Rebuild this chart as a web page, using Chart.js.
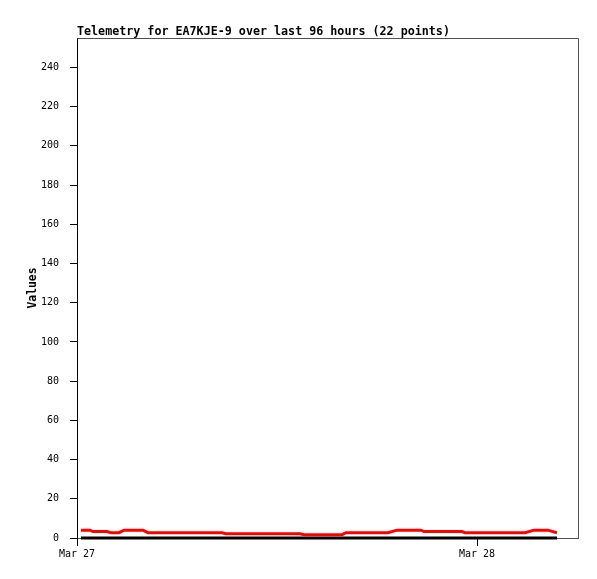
<!DOCTYPE html>
<html>
<head>
<meta charset="utf-8">
<script src="https://cdn.jsdelivr.net/npm/chart.js"></script>
<style>
  html, body { margin: 0; padding: 0; background: #fff; }
</style>
</head>
<body>
<canvas id="telemetryChart" width="597" height="579"></canvas>
<script>
// données (heures depuis le 27 mars 00:00)
const chartTitle = 'Telemetry for EA7KJE-9 over last 96 hours (22 points)';
const hours = [0.24, 0.78, 0.96, 1.8, 2.04, 2.52, 2.82, 3.96, 4.26, 8.7, 8.94, 13.38, 13.62,
               15.9, 16.14, 18.66, 19.2, 20.64, 20.82, 23.1, 23.28, 26.88, 27.42, 28.26, 28.5, 28.8];
const redValues = [4.0, 4.0, 3.3, 3.3, 2.7, 2.7, 4.0, 4.0, 2.7, 2.7, 2.2, 2.2, 1.7,
                   1.7, 2.7, 2.7, 4.0, 4.0, 3.3, 3.3, 2.7, 2.7, 4.0, 4.0, 3.4, 2.7];
const blackValues = hours.map(() => 0);
const xTickHours = [0, 24];
const xTickLabels = ['Mar 27', 'Mar 28'];
const yTicks = [0, 20, 40, 60, 80, 100, 120, 140, 160, 180, 200, 220, 240];

const monoFont = '"DejaVu Sans Mono", "Liberation Mono", monospace';

// cadre gris + titre
const framePlugin = {
    id: 'frame',
    afterDraw(chart) {
        const ctx = chart.ctx;
        const a = chart.chartArea;
        ctx.save();
        ctx.strokeStyle = '#505050';
        ctx.lineWidth = 1;
        ctx.beginPath();
        ctx.moveTo(a.left + 0.5, a.top + 0.5);
        ctx.lineTo(a.right + 0.5, a.top + 0.5);
        ctx.lineTo(a.right + 0.5, a.bottom + 0.5);
        ctx.stroke();
        ctx.fillStyle = '#000';
        ctx.font = 'bold 11.7px ' + monoFont;
        ctx.textAlign = 'left';
        ctx.textBaseline = 'alphabetic';
        ctx.fillText(chartTitle, a.left, a.top - 3);
        ctx.restore();
    }
};

const ctx = document.getElementById('telemetryChart').getContext('2d');
new Chart(ctx, {
    type: 'line',
    data: {
        datasets: [
            {
                label: 'red',
                data: hours.map((h, i) => ({ x: h, y: redValues[i] })),
                borderColor: '#ff0000',
                borderWidth: 3,
                pointRadius: 0,
                fill: false,
                tension: 0,
                clip: false
            },
            {
                label: 'black',
                data: hours.map((h, i) => ({ x: h, y: blackValues[i] })),
                borderColor: '#000000',
                borderWidth: 3,
                pointRadius: 0,
                fill: false,
                tension: 0,
                clip: false
            }
        ]
    },
    options: {
        responsive: false,
        animation: false,
        layout: { padding: { left: 0, top: 38, right: 19, bottom: 0 } },
        plugins: {
            legend: { display: false },
            tooltip: { enabled: false }
        },
        scales: {
            x: {
                type: 'linear',
                min: 0,
                max: 30.06,
                afterBuildTicks: scale => {
                    scale.ticks = xTickHours.map(v => ({ value: v }));
                },
                afterFit: scale => { scale.height = 41; },
                ticks: {
                    autoSkip: false,
                    maxRotation: 0,
                    padding: 2,
                    color: '#000',
                    font: { family: monoFont, size: 10 },
                    callback: value => {
                        const i = xTickHours.indexOf(value);
                        return i >= 0 ? xTickLabels[i] : '';
                    }
                },
                grid: {
                    drawOnChartArea: false,
                    drawTicks: true,
                    tickLength: 8,
                    color: '#000'
                },
                border: { display: true, color: '#505050', width: 1 }
            },
            y: {
                type: 'linear',
                min: 0,
                max: 255,
                afterBuildTicks: scale => {
                    scale.ticks = yTicks.map(v => ({ value: v }));
                },
                afterFit: scale => { scale.width = 77; },
                ticks: {
                    padding: 11,
                    color: '#000',
                    font: { family: monoFont, size: 10 }
                },
                grid: {
                    drawOnChartArea: false,
                    drawTicks: true,
                    tickLength: 7,
                    color: '#000'
                },
                border: { display: true, color: '#000', width: 1 },
                title: {
                    display: true,
                    text: 'Values',
                    color: '#000',
                    font: { family: monoFont, size: 11.4, weight: 'bold' },
                    padding: { top: 26, bottom: 0 }
                }
            }
        }
    },
    plugins: [framePlugin]
});
</script>
</body>
</html>
